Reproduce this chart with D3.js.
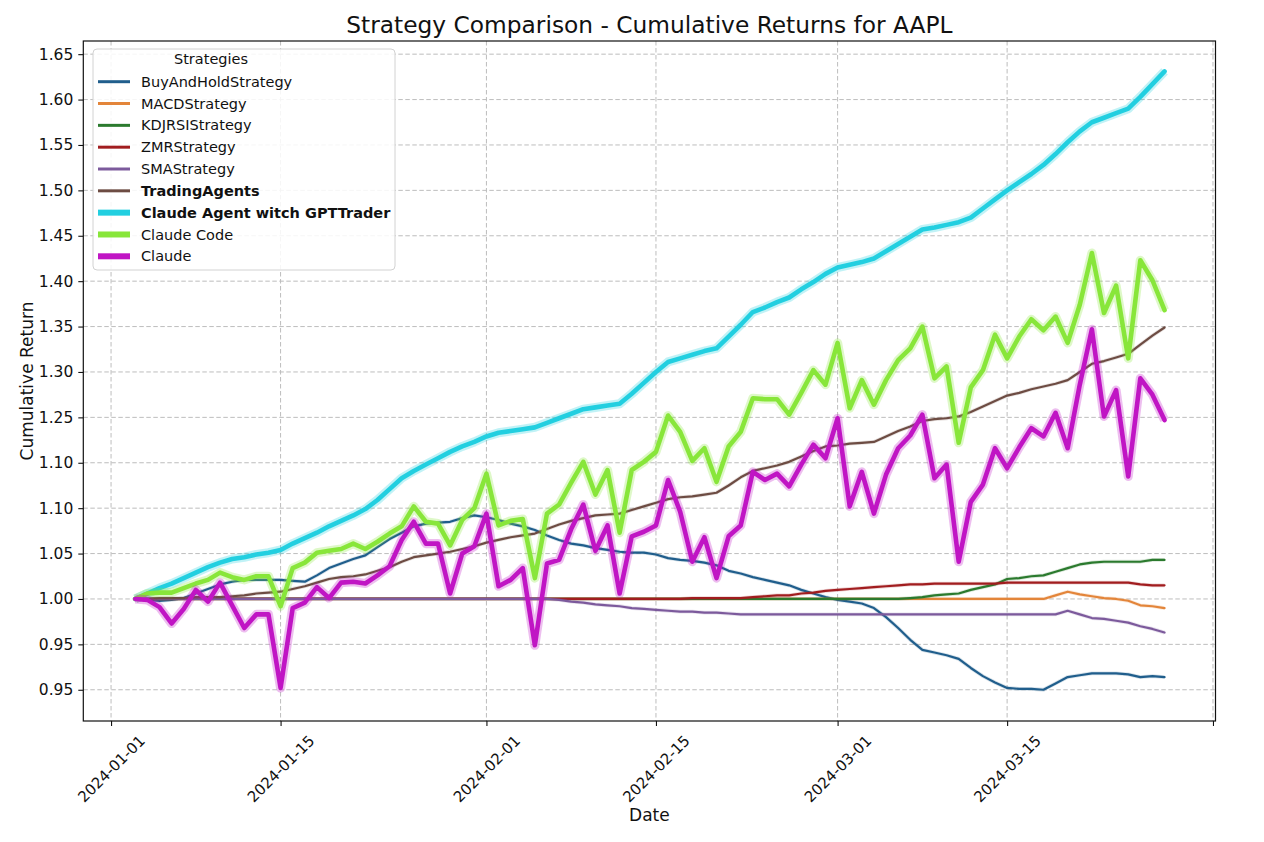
<!DOCTYPE html>
<html>
<head>
<meta charset="utf-8">
<script src="https://cdn.jsdelivr.net/npm/d3@7"></script>
<style>
  html, body { margin: 0; padding: 0; background: #fff; }
  svg { display: block; font-family: "DejaVu Sans", sans-serif; }
</style>
</head>
<body>
<svg id="chart" width="1264" height="842"></svg>
<script>
// one point per calendar day, 2024-01-03 .. 2024-03-28
const dates = d3.timeDay.range(new Date(2024, 0, 3), new Date(2024, 2, 29));

const buyAndHold = [
  1.000, 0.999, 0.998, 0.999, 1.001, 1.006, 1.011, 1.016, 1.019, 1.021,
  1.021, 1.021, 1.021, 1.020, 1.019, 1.026, 1.034, 1.039, 1.044, 1.048,
  1.057, 1.066, 1.073, 1.080, 1.083, 1.084, 1.085, 1.089, 1.092, 1.090,
  1.087, 1.083, 1.080, 1.076, 1.070, 1.065, 1.061, 1.059, 1.056, 1.054,
  1.052, 1.051, 1.051, 1.049, 1.045, 1.043, 1.042, 1.040, 1.037, 1.031,
  1.028, 1.024, 1.021, 1.018, 1.015, 1.010, 1.006, 1.002, 0.999, 0.997,
  0.995, 0.990, 0.980, 0.968, 0.955, 0.944, 0.941, 0.938, 0.934, 0.924,
  0.915, 0.908, 0.902, 0.901, 0.901, 0.900, 0.907, 0.914, 0.916, 0.918,
  0.918, 0.918, 0.917, 0.914, 0.915, 0.914
];

const macd = [
  1.000, 1.000, 1.000, 1.000, 1.000, 1.000, 1.000, 1.000, 1.000, 1.000,
  1.000, 1.000, 1.000, 1.000, 1.000, 1.000, 1.000, 1.000, 1.000, 1.000,
  1.000, 1.000, 1.000, 1.000, 1.000, 1.000, 1.000, 1.000, 1.000, 1.000,
  1.000, 1.000, 1.000, 1.000, 1.000, 1.000, 1.000, 1.000, 1.000, 1.000,
  1.000, 1.000, 1.000, 1.000, 1.000, 1.000, 1.000, 1.000, 1.000, 1.000,
  1.000, 1.000, 1.000, 1.000, 1.000, 1.000, 1.000, 1.000, 1.000, 1.000,
  1.000, 1.000, 1.000, 1.000, 1.000, 1.000, 1.000, 1.000, 1.000, 1.000,
  1.000, 1.000, 1.000, 1.000, 1.000, 1.000, 1.004, 1.008, 1.005, 1.003,
  1.001, 1.000, 0.998, 0.993, 0.992, 0.990
];

const kdjRsi = [
  1.000, 1.000, 1.000, 1.000, 1.000, 1.000, 1.000, 1.000, 1.000, 1.000,
  1.000, 1.000, 1.000, 1.000, 1.000, 1.000, 1.000, 1.000, 1.000, 1.000,
  1.000, 1.000, 1.000, 1.000, 1.000, 1.000, 1.000, 1.000, 1.000, 1.000,
  1.000, 1.000, 1.000, 1.000, 1.000, 1.000, 1.000, 1.000, 1.000, 1.000,
  1.000, 1.000, 1.000, 1.000, 1.000, 1.000, 1.000, 1.000, 1.000, 1.000,
  1.000, 1.000, 1.000, 1.000, 1.000, 1.000, 1.000, 1.000, 1.000, 1.000,
  1.000, 1.000, 1.000, 1.000, 1.001, 1.002, 1.004, 1.005, 1.006, 1.010,
  1.013, 1.016, 1.022, 1.023, 1.025, 1.026, 1.030, 1.034, 1.038, 1.040,
  1.041, 1.041, 1.041, 1.041, 1.043, 1.043
];

const zmr = [
  1.000, 1.000, 1.000, 1.000, 1.000, 1.000, 1.000, 1.000, 1.000, 1.000,
  1.000, 1.000, 1.000, 1.000, 1.000, 1.000, 1.000, 1.000, 1.000, 1.000,
  1.000, 1.000, 1.000, 1.000, 1.000, 1.000, 1.000, 1.000, 1.000, 1.000,
  1.000, 1.000, 1.000, 1.000, 1.000, 1.000, 1.000, 1.000, 1.000, 1.000,
  1.000, 1.000, 1.000, 1.000, 1.000, 1.000, 1.001, 1.001, 1.001, 1.001,
  1.001, 1.002, 1.003, 1.004, 1.004, 1.006, 1.007, 1.009, 1.010, 1.011,
  1.012, 1.013, 1.014, 1.015, 1.016, 1.016, 1.017, 1.017, 1.017, 1.017,
  1.017, 1.017, 1.018, 1.018, 1.018, 1.018, 1.018, 1.018, 1.018, 1.018,
  1.018, 1.018, 1.018, 1.016, 1.015, 1.015
];

const sma = [
  1.000, 1.000, 1.000, 1.000, 1.000, 1.000, 1.000, 1.000, 1.000, 1.000,
  1.000, 1.000, 1.000, 1.000, 1.000, 1.000, 1.000, 1.000, 1.000, 1.000,
  1.000, 1.000, 1.000, 1.000, 1.000, 1.000, 1.000, 1.000, 1.000, 1.000,
  1.000, 1.000, 1.000, 1.000, 1.000, 0.999, 0.997, 0.996, 0.994, 0.993,
  0.992, 0.990, 0.989, 0.988, 0.987, 0.986, 0.986, 0.985, 0.985, 0.984,
  0.983, 0.983, 0.983, 0.983, 0.983, 0.983, 0.983, 0.983, 0.983, 0.983,
  0.983, 0.983, 0.983, 0.983, 0.983, 0.983, 0.983, 0.983, 0.983, 0.983,
  0.983, 0.983, 0.983, 0.983, 0.983, 0.983, 0.983, 0.987, 0.983, 0.979,
  0.978, 0.976, 0.974, 0.970, 0.967, 0.963
];

const tradingAgents = [
  1.000, 1.000, 1.001, 1.001, 1.001, 1.002, 1.002, 1.002, 1.003, 1.004,
  1.006, 1.007, 1.008, 1.011, 1.014, 1.018, 1.022, 1.024, 1.025, 1.027,
  1.031, 1.035, 1.041, 1.046, 1.048, 1.050, 1.052, 1.055, 1.058, 1.062,
  1.065, 1.068, 1.070, 1.072, 1.077, 1.082, 1.086, 1.089, 1.092, 1.093,
  1.094, 1.098, 1.102, 1.106, 1.110, 1.112, 1.113, 1.115, 1.117, 1.125,
  1.134, 1.141, 1.144, 1.147, 1.151, 1.157, 1.163, 1.168, 1.169, 1.171,
  1.172, 1.173, 1.179, 1.185, 1.190, 1.196, 1.198, 1.199, 1.201, 1.206,
  1.212, 1.218, 1.224, 1.227, 1.231, 1.234, 1.237, 1.241, 1.250, 1.259,
  1.262, 1.266, 1.270, 1.280, 1.290, 1.299
];

const claudeAgent = [
  1.000, 1.006, 1.012, 1.017, 1.023, 1.029, 1.035, 1.040, 1.044, 1.046,
  1.049, 1.051, 1.054, 1.061, 1.067, 1.073, 1.080, 1.086, 1.092, 1.099,
  1.109, 1.121, 1.133, 1.141, 1.148, 1.155, 1.162, 1.168, 1.173, 1.179,
  1.183, 1.185, 1.187, 1.189, 1.194, 1.199, 1.204, 1.209, 1.211, 1.213,
  1.215, 1.226, 1.238, 1.250, 1.261, 1.265, 1.269, 1.273, 1.276, 1.289,
  1.302, 1.316, 1.321, 1.327, 1.332, 1.341, 1.349, 1.358, 1.365, 1.368,
  1.371, 1.375, 1.383, 1.391, 1.399, 1.407, 1.409, 1.412, 1.415, 1.420,
  1.430, 1.440, 1.450, 1.459, 1.468, 1.478, 1.490, 1.503, 1.515, 1.525,
  1.530, 1.535, 1.540, 1.553, 1.567, 1.581
];

const claudeCode = [
  1.000, 1.006, 1.007, 1.007, 1.012, 1.017, 1.021, 1.029, 1.024, 1.021,
  1.025, 1.025, 0.992, 1.034, 1.040, 1.051, 1.053, 1.055, 1.061, 1.055,
  1.063, 1.072, 1.080, 1.102, 1.085, 1.083, 1.059, 1.087, 1.100, 1.138,
  1.081, 1.086, 1.088, 1.023, 1.094, 1.104, 1.128, 1.151, 1.115, 1.142,
  1.073, 1.142, 1.151, 1.162, 1.202, 1.184, 1.152, 1.166, 1.129, 1.168,
  1.184, 1.221, 1.220, 1.220, 1.203, 1.227, 1.252, 1.236, 1.282, 1.210,
  1.241, 1.214, 1.241, 1.263, 1.276, 1.300, 1.243, 1.256, 1.172, 1.233,
  1.252, 1.291, 1.265, 1.289, 1.308, 1.296, 1.311, 1.282, 1.324, 1.381,
  1.315, 1.345, 1.265, 1.373, 1.351, 1.318
];

const claude = [
  1.000, 0.999, 0.991, 0.973, 0.989, 1.010, 0.997, 1.018, 0.993, 0.968,
  0.983, 0.983, 0.902, 0.990, 0.996, 1.013, 1.001, 1.018, 1.019, 1.017,
  1.026, 1.036, 1.065, 1.085, 1.061, 1.061, 1.006, 1.050, 1.058, 1.094,
  1.014, 1.021, 1.034, 0.949, 1.039, 1.043, 1.077, 1.104, 1.053, 1.081,
  1.006, 1.069, 1.074, 1.081, 1.131, 1.096, 1.041, 1.068, 1.023, 1.069,
  1.081, 1.140, 1.131, 1.138, 1.124, 1.148, 1.170, 1.155, 1.199, 1.102,
  1.140, 1.094, 1.137, 1.166, 1.180, 1.203, 1.133, 1.148, 1.041, 1.107,
  1.126, 1.166, 1.144, 1.167, 1.188, 1.179, 1.205, 1.166, 1.236, 1.297,
  1.201, 1.230, 1.135, 1.243, 1.225, 1.197
];

const seriesNames = [
  'BuyAndHoldStrategy', 'MACDStrategy', 'KDJRSIStrategy', 'ZMRStrategy', 'SMAStrategy',
  'TradingAgents', 'Claude Agent witch GPTTrader', 'Claude Code', 'Claude'
];
const seriesValues = [buyAndHold, macd, kdjRsi, zmr, sma, tradingAgents, claudeAgent, claudeCode, claude];

// y gridlines and the labels printed next to them
const yTickValues = [0.90, 0.95, 1.00, 1.05, 1.10, 1.15, 1.20, 1.25, 1.30, 1.35, 1.40, 1.45, 1.50, 1.55, 1.60];
const yTickLabels = ['0.95', '0.95', '1.00', '1.05', '1.10', '1.10', '1.25', '1.30', '1.35', '1.40', '1.45', '1.50', '1.55', '1.60', '1.65'];

const xTickDates = [
  new Date(2024, 0, 1), new Date(2024, 0, 15), new Date(2024, 1, 1), new Date(2024, 1, 15),
  new Date(2024, 2, 1), new Date(2024, 2, 15), new Date(2024, 3, 1)
];
const xTickLabels = ['2024-01-01', '2024-01-15', '2024-02-01', '2024-02-15', '2024-03-01', '2024-03-15', ''];

// styling per series
const STYLES = [
  { color: '#205e8c', width: 2.2 },
  { color: '#e3853a', width: 2.2 },
  { color: '#2b7a2e', width: 2.2 },
  { color: '#a11d1f', width: 2.2 },
  { color: '#7c5a9c', width: 2.2 },
  { color: '#6d4c43', width: 2.2 },
  { color: '#22cfe0', width: 4.6, glow: true },
  { color: '#88e63a', width: 4.6, glow: true },
  { color: '#c015c4', width: 4.6, glow: true }
];

const W = 1264, H = 842;
const plot = { left: 83.3, top: 41, right: 1215.5, bottom: 721 };

const svg = d3.select('#chart');

svg.append('rect').attr('width', W).attr('height', H).attr('fill', '#fff');

const x = d3.scaleTime()
  .domain([d3.timeHour.offset(new Date(2024, 0, 1), -54.5), d3.timeHour.offset(new Date(2024, 0, 1), 2189.3)])
  .range([plot.left, plot.right]);

const y = d3.scaleLinear()
  .domain([0.8656, 1.6145])
  .range([plot.bottom, plot.top]);

// grid
const grid = svg.append('g').attr('class', 'grid')
  .attr('stroke', '#bdbdbd').attr('stroke-width', 1).attr('stroke-dasharray', '4.5,2.5');

grid.selectAll('line.gy').data(yTickValues).join('line')
  .attr('class', 'gy')
  .attr('x1', plot.left).attr('x2', plot.right)
  .attr('y1', d => y(d)).attr('y2', d => y(d));

grid.selectAll('line.gx').data(xTickDates).join('line')
  .attr('class', 'gx')
  .attr('x1', d => x(d)).attr('x2', d => x(d))
  .attr('y1', plot.top).attr('y2', plot.bottom);

// lines
const line = d3.line()
  .x((d, i) => x(dates[i]))
  .y(d => y(d));

svg.append('clipPath').attr('id', 'plot-clip')
  .append('rect')
  .attr('x', plot.left).attr('y', plot.top)
  .attr('width', plot.right - plot.left).attr('height', plot.bottom - plot.top);

const linesG = svg.append('g').attr('clip-path', 'url(#plot-clip)');

seriesValues.forEach((vals, k) => {
  const st = STYLES[k];
  // soft halo under every line, wider for the thick ones
  linesG.append('path')
    .datum(vals)
    .attr('d', line)
    .attr('fill', 'none')
    .attr('stroke', st.color)
    .attr('stroke-opacity', st.glow ? 0.28 : 0.18)
    .attr('stroke-width', st.glow ? st.width + 4.5 : st.width + 1.6)
    .attr('stroke-linejoin', 'round');
  linesG.append('path')
    .datum(vals)
    .attr('d', line)
    .attr('fill', 'none')
    .attr('stroke', st.color)
    .attr('stroke-width', st.width)
    .attr('stroke-linejoin', 'round')
    .attr('stroke-linecap', 'round');
});

// frame
svg.append('rect')
  .attr('x', plot.left).attr('y', plot.top)
  .attr('width', plot.right - plot.left).attr('height', plot.bottom - plot.top)
  .attr('fill', 'none').attr('stroke', '#111').attr('stroke-width', 1.2);

// y axis
const yAxis = d3.axisLeft(y)
  .tickValues(yTickValues)
  .tickFormat((d, i) => yTickLabels[i])
  .tickSize(5)
  .tickPadding(5);

const yG = svg.append('g')
  .attr('transform', `translate(${plot.left},0)`)
  .call(yAxis);
yG.select('.domain').remove();
yG.selectAll('.tick line').attr('stroke', '#111').attr('stroke-width', 1.1);
yG.selectAll('.tick text')
  .attr('fill', '#111')
  .attr('font-size', 15.5)
  .attr('font-family', '"DejaVu Sans", sans-serif');

// x axis
const xAxis = d3.axisBottom(x)
  .tickValues(xTickDates)
  .tickFormat((d, i) => xTickLabels[i])
  .tickSize(5);

const xG = svg.append('g')
  .attr('transform', `translate(0,${plot.bottom})`)
  .call(xAxis);
xG.select('.domain').remove();
xG.selectAll('.tick line').attr('stroke', '#111').attr('stroke-width', 1.1);
// rotated 45°, bbox centred on the tick like matplotlib's default
xG.selectAll('.tick text')
  .attr('fill', '#111')
  .attr('font-size', 15)
  .attr('font-family', '"DejaVu Sans", sans-serif')
  .attr('text-anchor', 'middle')
  .attr('dominant-baseline', 'central')
  .attr('y', 0).attr('dy', null)
  .attr('transform', 'translate(0,48) rotate(-45)');

// title and axis labels
svg.append('text')
  .attr('x', (plot.left + plot.right) / 2).attr('y', 33)
  .attr('text-anchor', 'middle')
  .attr('font-size', 23.3)
  .attr('fill', '#111')
  .text('Strategy Comparison - Cumulative Returns for AAPL');

svg.append('text')
  .attr('x', (plot.left + plot.right) / 2).attr('y', 821)
  .attr('text-anchor', 'middle')
  .attr('font-size', 17)
  .attr('fill', '#111')
  .text('Date');

svg.append('text')
  .attr('transform', `translate(33,${(plot.top + plot.bottom) / 2}) rotate(-90)`)
  .attr('text-anchor', 'middle')
  .attr('font-size', 17)
  .attr('fill', '#111')
  .text('Cumulative Return');

// legend
const legend = svg.append('g').attr('transform', 'translate(93,49)');
legend.append('rect')
  .attr('width', 302).attr('height', 221)
  .attr('rx', 4)
  .attr('fill', '#fff').attr('fill-opacity', 0.85)
  .attr('stroke', '#d2d2d2').attr('stroke-width', 1);

legend.append('text')
  .attr('x', 118).attr('y', 15)
  .attr('text-anchor', 'middle')
  .attr('font-size', 14.5)
  .attr('fill', '#111')
  .text('Strategies');

const rowY = d3.scaleLinear().domain([0, 8]).range([32.7, 207.3]);

const rows = legend.selectAll('g.row')
  .data(seriesNames)
  .join('g')
  .attr('class', 'row')
  .attr('transform', (d, i) => `translate(0,${rowY(i)})`);

rows.append('line')
  .attr('x1', 5).attr('x2', 37)
  .attr('stroke', (d, i) => STYLES[i].color)
  .attr('stroke-width', (d, i) => STYLES[i].glow ? 6 : 3);

rows.append('text')
  .attr('x', 48)
  .attr('dy', '0.35em')
  .attr('font-size', 14.5)
  .attr('font-weight', (d, i) => (i === 5 || i === 6) ? 'bold' : 'normal')
  .attr('fill', '#111')
  .text(d => d);
</script>
</body>
</html>
